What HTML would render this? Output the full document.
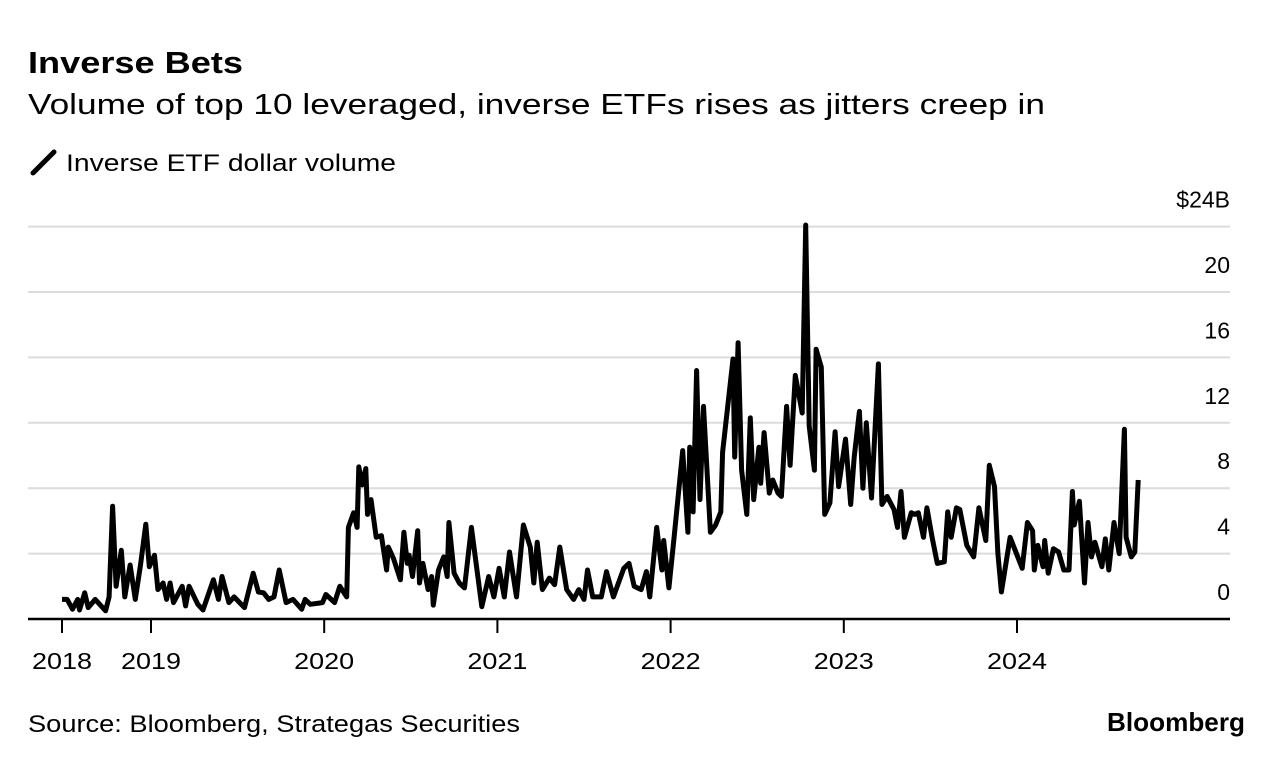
<!DOCTYPE html>
<html><head><meta charset="utf-8"><style>
body{margin:0;width:1285px;height:766px;background:#fff;font-family:"Liberation Sans",sans-serif;overflow:hidden}
</style></head><body>
<svg width="1285" height="766" style="position:absolute;left:0;top:0">
<text x="28" y="73" font-size="31" font-weight="bold" fill="#000" textLength="215" lengthAdjust="spacingAndGlyphs">Inverse Bets</text>
<text x="28" y="114" font-size="29" fill="#000" textLength="1017" lengthAdjust="spacingAndGlyphs">Volume of top 10 leveraged, inverse ETFs rises as jitters creep in</text>
<line x1="33" y1="173" x2="54" y2="152" stroke="#000" stroke-width="5" stroke-linecap="round"/>
<text x="66" y="171" font-size="24" fill="#000" textLength="330" lengthAdjust="spacingAndGlyphs">Inverse ETF dollar volume</text>
<g id="grid"></g><g id="yl"></g><g id="xl"></g>
<path id="line" fill="none" stroke="#000" stroke-width="5" stroke-linejoin="round"/>
<text x="28" y="732" font-size="24" fill="#000" textLength="492" lengthAdjust="spacingAndGlyphs">Source: Bloomberg, Strategas Securities</text>
<text x="1245" y="731" font-size="26" font-weight="bold" text-anchor="end" fill="#000" textLength="138" lengthAdjust="spacingAndGlyphs">Bloomberg</text>
</svg>
<script>
const yTicks=[0,4,8,12,16,20,24];
const yTickLabels=["0","4","8","12","16","20","$24B"];
const xTicks=[2018.49,2019,2020,2021,2022,2023,2024];
const xTickLabels=["2018","2019","2020","2021","2022","2023","2024"];
const dates=[2018.49,2018.52,2018.55,2018.58,2018.59,2018.62,2018.64,2018.68,2018.74,2018.76,2018.78,2018.80,2018.83,2018.85,2018.88,2018.91,2018.94,2018.97,2018.99,2019.02,2019.04,2019.07,2019.09,2019.11,2019.13,2019.18,2019.20,2019.22,2019.27,2019.30,2019.36,2019.39,2019.41,2019.45,2019.48,2019.54,2019.59,2019.62,2019.65,2019.68,2019.71,2019.74,2019.78,2019.82,2019.87,2019.89,2019.92,2019.99,2020.01,2020.06,2020.09,2020.13,2020.14,2020.17,2020.19,2020.20,2020.22,2020.24,2020.25,2020.27,2020.30,2020.33,2020.36,2020.37,2020.40,2020.44,2020.46,2020.48,2020.49,2020.51,2020.54,2020.55,2020.57,2020.60,2020.62,2020.63,2020.66,2020.69,2020.71,2020.72,2020.75,2020.78,2020.81,2020.85,2020.91,2020.95,2020.98,2021.01,2021.04,2021.07,2021.11,2021.15,2021.19,2021.21,2021.23,2021.26,2021.30,2021.33,2021.36,2021.40,2021.44,2021.47,2021.50,2021.52,2021.55,2021.60,2021.63,2021.67,2021.73,2021.76,2021.79,2021.83,2021.86,2021.88,2021.92,2021.95,2021.96,2021.99,2022.02,2022.07,2022.10,2022.11,2022.13,2022.15,2022.17,2022.19,2022.23,2022.26,2022.29,2022.30,2022.36,2022.37,2022.39,2022.41,2022.44,2022.46,2022.48,2022.51,2022.52,2022.54,2022.57,2022.59,2022.62,2022.64,2022.67,2022.69,2022.72,2022.76,2022.78,2022.80,2022.83,2022.84,2022.87,2022.89,2022.92,2022.95,2022.97,2023.01,2023.04,2023.06,2023.09,2023.11,2023.13,2023.16,2023.20,2023.22,2023.25,2023.29,2023.31,2023.33,2023.35,2023.39,2023.41,2023.43,2023.46,2023.48,2023.51,2023.54,2023.58,2023.60,2023.62,2023.65,2023.67,2023.71,2023.75,2023.78,2023.82,2023.84,2023.87,2023.89,2023.91,2023.96,2024.03,2024.06,2024.09,2024.10,2024.12,2024.15,2024.16,2024.18,2024.21,2024.24,2024.27,2024.30,2024.32,2024.33,2024.36,2024.39,2024.41,2024.43,2024.45,2024.49,2024.51,2024.53,2024.56,2024.59,2024.62,2024.63,2024.66,2024.68,2024.70];
const values=[1.2,1.2,0.6,1.2,0.55,1.6,0.7,1.2,0.5,1.35,6.9,2.0,4.2,1.35,3.3,1.2,3.3,5.8,3.2,3.9,1.8,2.2,1.2,2.2,1.0,2.0,0.8,2.0,0.9,0.55,2.4,1.2,2.6,1.0,1.35,0.7,2.8,1.65,1.6,1.2,1.35,3.0,1.0,1.2,0.6,1.2,0.9,1.0,1.5,1.0,2.0,1.35,5.6,6.5,5.6,9.3,8.2,9.2,6.4,7.3,5.0,5.1,3.0,4.4,3.7,2.4,5.3,3.4,3.9,2.6,5.4,2.2,3.4,1.8,2.6,0.85,3.0,3.8,2.6,5.9,2.8,2.2,1.9,5.6,0.75,2.6,1.35,3.1,1.35,4.1,1.35,5.75,4.4,2.2,4.7,1.8,2.5,2.1,4.4,1.8,1.2,1.8,1.2,3.0,1.35,1.35,2.9,1.35,3.1,3.4,2.0,1.8,2.9,1.35,5.6,3.0,4.8,1.9,5.0,10.3,5.3,10.5,6.55,15.2,7.3,13.0,5.3,5.75,6.55,10.2,15.9,9.9,16.9,9.1,6.4,12.3,7.3,10.5,8.3,11.4,7.7,8.5,7.7,7.5,13.0,9.4,14.9,12.6,24.1,11.8,9.1,16.5,15.4,6.4,7.1,11.45,8.1,11.0,7.0,9.9,12.7,8.0,12.0,7.4,15.6,7.0,7.5,6.7,5.6,7.8,5.0,6.5,6.4,6.5,5.0,6.8,5.0,3.4,3.5,6.55,5.0,6.8,6.7,4.5,3.8,6.8,4.8,9.4,8.1,4.0,1.65,5.0,3.1,5.9,5.4,3.0,4.5,3.2,4.8,2.8,4.3,4.1,3.0,3.0,7.8,5.75,7.2,2.2,5.9,3.8,4.7,3.2,4.9,3.0,5.9,4.0,11.6,5.0,3.8,4.1,8.5,5.0];
const X=d=>62+(d<2019?(d-2018.49)*(89/0.51):89+(d-2019)*173.2);
const Y=v=>619-v*16.35;
const ns="http://www.w3.org/2000/svg";
const grid=document.getElementById('grid'),yl=document.getElementById('yl'),xl=document.getElementById('xl');
yTicks.forEach((t,i)=>{
  const l=document.createElementNS(ns,'line');
  
  
  l.setAttribute('x1',28);l.setAttribute('x2',1230);l.setAttribute('y1',Y(t));l.setAttribute('y2',Y(t));
  l.setAttribute('stroke',t===0?'#000':'#dcdcdc');l.setAttribute('stroke-width',t===0?2.5:2);
  grid.appendChild(l);
  const tx=document.createElementNS(ns,'text');
  
  
  tx.setAttribute('x',1230);tx.setAttribute('y',Y(t)-19);tx.setAttribute('text-anchor','end');
  tx.setAttribute('font-size','23');tx.textContent=yTickLabels[i];
  yl.appendChild(tx);
});
xTicks.forEach((t,i)=>{
  const x=X(t);
  const l=document.createElementNS(ns,'line');
  
  
  l.setAttribute('x1',x);l.setAttribute('x2',x);l.setAttribute('y1',619);l.setAttribute('y2',633);
  l.setAttribute('stroke','#000');l.setAttribute('stroke-width',2);
  xl.appendChild(l);
  const tx=document.createElementNS(ns,'text');
  
  
  tx.setAttribute('x',x-30);tx.setAttribute('y',669);
  tx.setAttribute('textLength','60');tx.setAttribute('lengthAdjust','spacingAndGlyphs');
  tx.setAttribute('font-size','23');tx.textContent=xTickLabels[i];
  xl.appendChild(tx);
});
let d='';
dates.forEach((dt,i)=>{d+=(i?'L':'M')+X(dt).toFixed(1)+','+Y(values[i]).toFixed(1);});
document.getElementById('line').setAttribute('d',d);
</script>
</body></html>
